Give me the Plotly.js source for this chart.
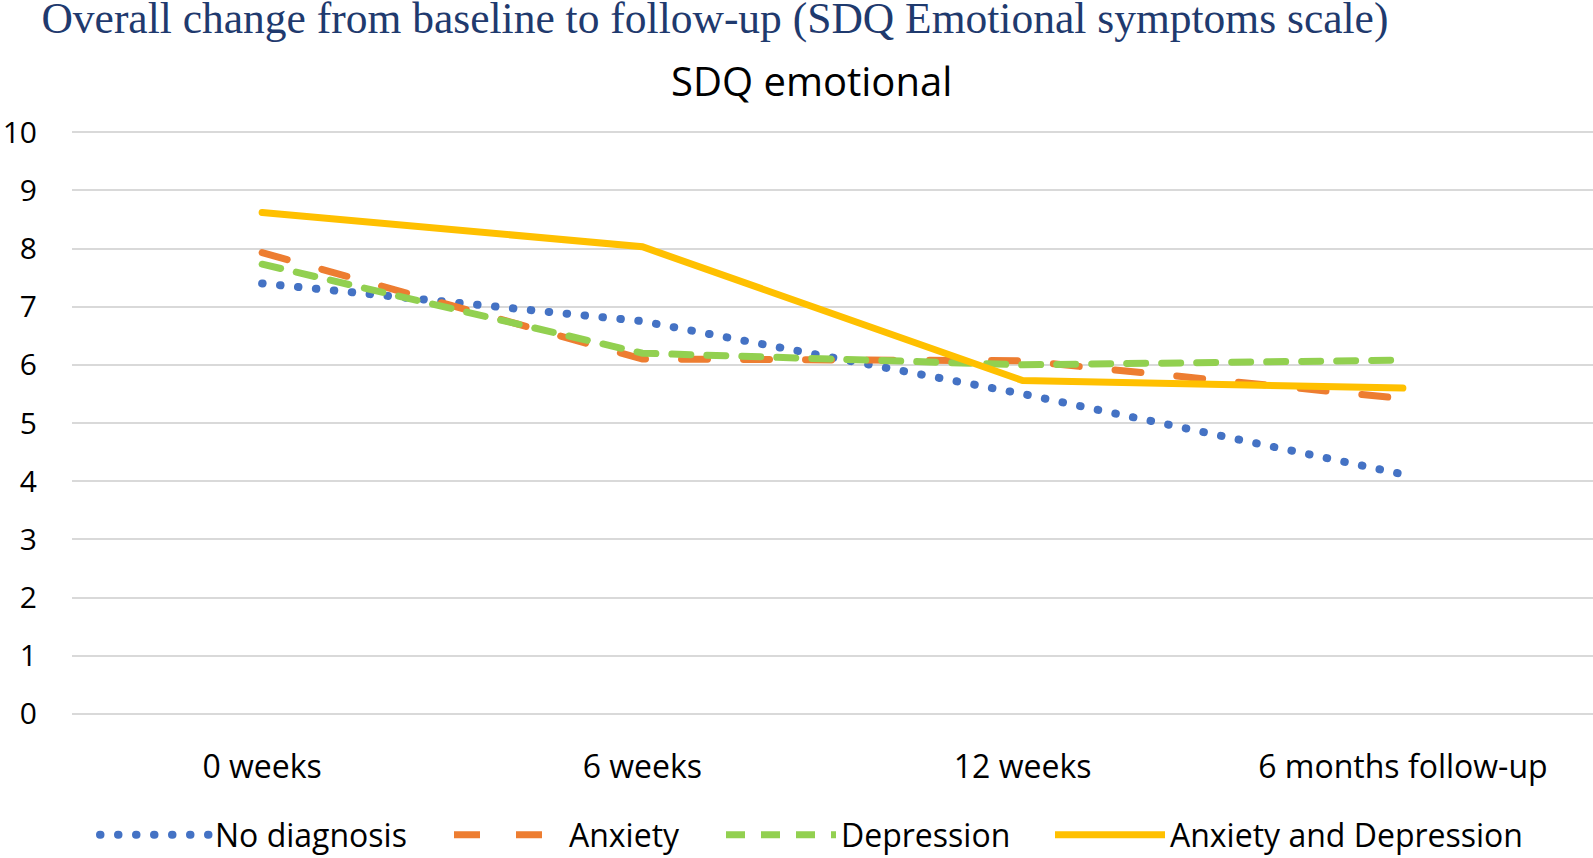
<!DOCTYPE html>
<html>
<head>
<meta charset="utf-8">
<script src="https://cdn.plot.ly/plotly-3.0.1.min.js"></script>
<style>
  body { margin: 0; background: #fff; }
  #sdq-plot { width: 1593px; height: 858px; }
  /* Excel-style round caps on the dashed lines */
  .scatterlayer .js-line, .legend .js-line { stroke-linecap: round !important; }
</style>
</head>
<body>
<div id="sdq-plot"></div>
<script>
var timepoints = ["0 weeks", "6 weeks", "12 weeks", "6 months follow-up"];

var noDiagnosis = [7.4, 6.75, 5.5, 4.12];
var anxiety = [7.93, 6.1, 6.07, 5.42];
var depression = [7.73, 6.2, 6.0, 6.08];
var anxietyDepression = [8.62, 8.03, 5.73, 5.6];

var tickVals = [0, 1, 2, 3, 4, 5, 6, 7, 8, 9, 10];

var trace1 = {
    type: "scatter",
    mode: "lines",
    name: "No diagnosis",
    legend: "legend",
    x: timepoints,
    y: noDiagnosis,
    line: { color: "#4472C4", width: 8, dash: "0.5px,17.5px" }
};

var trace2 = {
    type: "scatter",
    mode: "lines",
    name: "Anxiety",
    legend: "legend2",
    x: timepoints,
    y: anxiety,
    line: { color: "#ED7D31", width: 7, dash: "26px,36px" }
};

var trace3 = {
    type: "scatter",
    mode: "lines",
    name: "Depression",
    legend: "legend3",
    x: timepoints,
    y: depression,
    line: { color: "#92D050", width: 7, dash: "19px,16px" }
};

var trace4 = {
    type: "scatter",
    mode: "lines",
    name: "Anxiety and Depression",
    legend: "legend4",
    x: timepoints,
    y: anxietyDepression,
    line: { color: "#FFC000", width: 7 }
};

var data = [trace1, trace2, trace3, trace4];

// one legend box per series so the entries sit where the original has them
function legendAt(px) {
    return {
        orientation: "h",
        xref: "container",
        x: px / 1593,
        xanchor: "left",
        yref: "container",
        y: 0.027,
        yanchor: "middle",
        font: { size: 32, color: "#000000" },
        itemwidth: 110,
        bgcolor: "rgba(0,0,0,0)"
    };
}

var layout = {
    width: 1593,
    height: 858,
    paper_bgcolor: "#ffffff",
    plot_bgcolor: "#ffffff",
    margin: { l: 72, r: 0, t: 131, b: 143 },
    font: { family: "Open Sans, sans-serif", color: "#000000" },
    title: {
        text: "Overall change from baseline to follow-up (SDQ Emotional symptoms scale)",
        font: { family: "Liberation Serif, serif", size: 43.5, color: "#1F3A6E" },
        x: 0.026,
        xanchor: "left",
        xref: "container",
        yref: "container",
        y: 0.979,
        yanchor: "middle"
    },
    annotations: [{
        text: "SDQ emotional",
        xref: "paper",
        yref: "paper",
        x: 0.486,
        y: 1.0,
        yshift: 51,
        xanchor: "center",
        yanchor: "middle",
        showarrow: false,
        font: { family: "Open Sans, sans-serif", size: 40, color: "#000000" }
    }],
    xaxis: {
        type: "category",
        range: [-0.5, 3.5],
        showgrid: false,
        zeroline: false,
        showline: false,
        ticks: "",
        ticklabelstandoff: 30,
        tickfont: { size: 32, color: "#000000" }
    },
    yaxis: {
        range: [-0.02, 10.02],
        tickvals: tickVals,
        showgrid: true,
        gridcolor: "#D9D9D9",
        gridwidth: 2,
        zeroline: false,
        showline: false,
        ticks: "",
        ticklabelstandoff: 34,
        tickfont: { size: 30, color: "#000000" }
    },
    showlegend: true,
    legend: legendAt(95),
    legend2: legendAt(449),
    legend3: legendAt(721),
    legend4: legendAt(1050)
};

Plotly.newPlot("sdq-plot", data, layout, { displayModeBar: false });
</script>
</body>
</html>
